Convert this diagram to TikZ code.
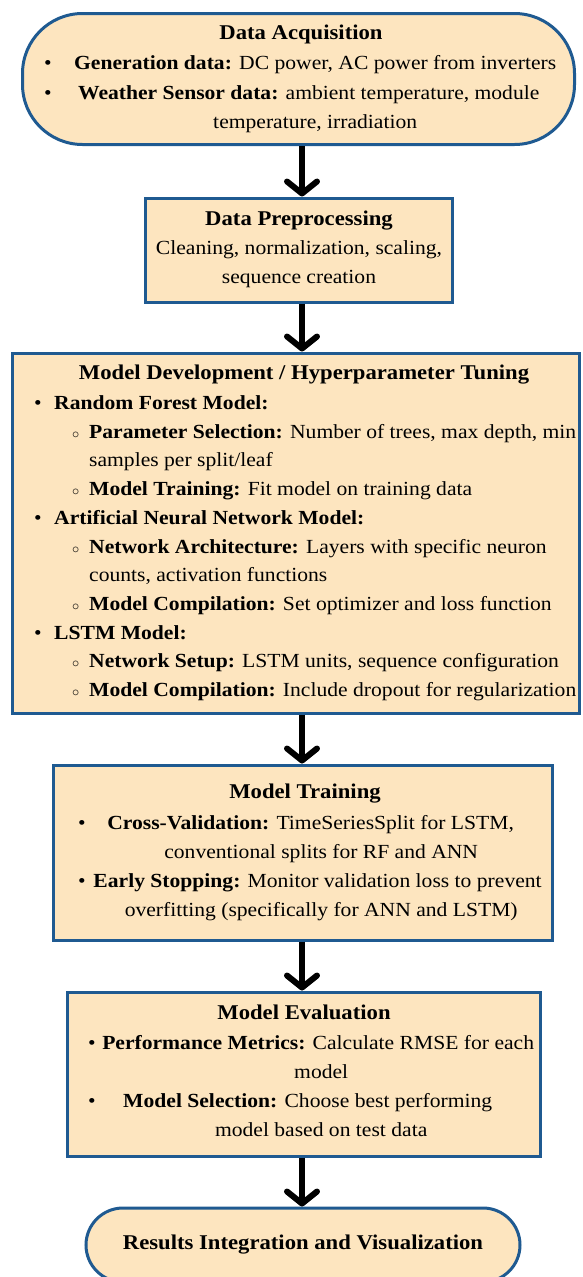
\documentclass[tikz,border=0pt]{standalone}
\usepackage{fontspec}
\setmainfont{Liberation Serif}[FakeStretch=1.08]
\usepackage{array}
\usetikzlibrary{arrows.meta, positioning, calc}
\definecolor{peach}{HTML}{FDE5BF}
\definecolor{edgeblue}{HTML}{1F5A91}
\newcommand{\mainpt}[1]{\makebox[20pt][l]{\textbullet}#1}
\newcommand{\subpt}[1]{\hspace{38pt}\makebox[17pt][l]{${\scriptstyle\circ}$}#1}
\newcommand{\contpt}[1]{\hspace{55pt}#1}

\begin{document}
\begin{tikzpicture}[
  x=1pt, y=-1pt,
  >={Straight Barb[length=12pt, width=30pt, round]},
  box/.style 2 args={
    draw=edgeblue, line width=3pt, fill=peach, inner sep=0pt,
    minimum width=#1, minimum height=#2},
  ttl/.style={font=\fontsize{21}{29}\selectfont\bfseries, anchor=base, inner sep=0pt},
  body/.style={font=\fontsize{20}{29}\selectfont, anchor=base west, inner sep=0pt},
  flow/.style={->, line width=6pt, black},
]

% Page frame
\useasboundingbox (0,0) rectangle (582,1277);
\coordinate (axis) at (302,0);

% === Data Acquisition (top terminator) ===
\node[box={552pt}{131pt}, rounded corners=60pt] (acq) at (298.5,79) {};
\node[ttl] (acqttl) at (301,39.5) {Data Acquisition};
\node[body, font=\fontsize{20}{29.5}\selectfont] (acqtxt) at (44,69.5) {%
  \begin{tabular}[t]{@{}p{21pt}@{}>{\centering\arraybackslash}p{500pt}@{}}
  \textbullet & \textbf{Generation data:} DC power, AC power from inverters\\
  \textbullet & \textbf{Weather Sensor data:} ambient temperature, module\newline temperature, irradiation
  \end{tabular}};

% === Data Preprocessing ===
\node[box={307pt}{104pt}] (prep) at (298.5,250) {};
\node[ttl] (prepttl) at (299,225.5) {Data Preprocessing};
\node[body, anchor=base] (preptxt) at (299,254.5) {%
  \begin{tabular}[t]{@{}c@{}}
  Cleaning, normalization, scaling,\\
  sequence creation
  \end{tabular}};

% === Model Development / Hyperparameter Tuning ===
\node[box={567pt}{360pt}] (dev) at (296,533) {};
\node[ttl] (devttl) at (304,379.5) {Model Development / Hyperparameter Tuning};
\node[body, font=\fontsize{20}{28.7}\selectfont] (devtxt) at (34,409.5) {%
  \begin{tabular}[t]{@{}l@{}}
  \mainpt{\textbf{Random Forest Model:}}\\
  \subpt{\textbf{Parameter Selection:} Number of trees, max depth, min}\\
  \contpt{samples per split/leaf}\\
  \subpt{\textbf{Model Training:} Fit model on training data}\\
  \mainpt{\textbf{Artificial Neural Network Model:}}\\
  \subpt{\textbf{Network Architecture:} Layers with specific neuron}\\
  \contpt{counts, activation functions}\\
  \subpt{\textbf{Model Compilation:} Set optimizer and loss function}\\
  \mainpt{\textbf{LSTM Model:}}\\
  \subpt{\textbf{Network Setup:} LSTM units, sequence configuration}\\
  \subpt{\textbf{Model Compilation:} Include dropout for regularization}
  \end{tabular}};

% === Model Training ===
\node[box={499pt}{175pt}] (train) at (302.5,852.5) {};
\node[ttl] (trainttl) at (305,798.5) {Model Training};
\node[body] (traintxt) at (78,829.5) {%
  \begin{tabular}[t]{@{}p{8pt}@{}>{\centering\arraybackslash}p{470pt}@{}}
  \textbullet & \textbf{Cross-Validation:} TimeSeriesSplit for LSTM,\newline conventional splits for RF and ANN\\
  \textbullet & \textbf{Early Stopping:} Monitor validation loss to prevent\newline overfitting (specifically for ANN and LSTM)
  \end{tabular}};

% === Model Evaluation ===
\node[box={473pt}{164pt}] (eval) at (303.5,1074) {};
\node[ttl] (evalttl) at (304,1019.5) {Model Evaluation};
\node[body] (evaltxt) at (88,1049.5) {%
  \begin{tabular}[t]{@{}p{8pt}@{}>{\centering\arraybackslash}p{450pt}@{}}
  \textbullet & \textbf{Performance Metrics:} Calculate RMSE for each\newline model\\
  \textbullet & \textbf{Model Selection:} Choose best performing\newline model based on test data
  \end{tabular}};

% === Results (bottom terminator) ===
\node[box={434pt}{74pt}, rounded corners=37pt,
  font=\fontsize{21}{29}\selectfont\bfseries] (results) at (303,1245)
  {Results Integration and Visualization};

% ============================================================
% Flow arrows down the centre line
% ============================================================
\draw[flow] (acq.south -| axis) -- (prep.north -| axis);
\draw[flow] (prep.south -| axis) -- (dev.north -| axis);
\draw[flow] (dev.south -| axis) -- (train.north -| axis);
\draw[flow] (train.south -| axis) -- (eval.north -| axis);
\draw[flow] (eval.south -| axis) -- (results.north -| axis);

\end{tikzpicture}
\end{document}
